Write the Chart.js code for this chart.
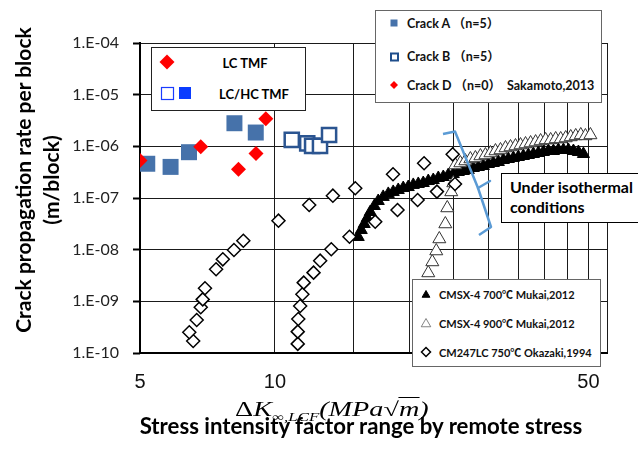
<!DOCTYPE html>
<html>
<head>
<meta charset="utf-8">
<script src="https://cdn.jsdelivr.net/npm/chart.js@4.4.1/dist/chart.umd.min.js"></script>
<style>
  html, body { margin: 0; padding: 0; background: #fff; }
  #wrap { position: relative; width: 638px; height: 457px; overflow: hidden; }
  #wrap canvas { position: absolute; left: 0; top: 0; }
  .box { position: absolute; box-sizing: border-box; border: 1px solid #666; background: #fff; }
  .t { position: absolute; white-space: nowrap; line-height: 1; transform: translateY(-50%);
       font-family: Lato, "Noto Sans CJK JP", sans-serif; font-weight: bold; color: #111; }
  .t.c { transform: translate(-50%, -50%); }
  .t.rot { transform: translate(-50%, -50%) rotate(-90deg); color: #000; }
  #formula { position: absolute; left: 235px; top: 399px; white-space: nowrap; line-height: 1;
             font-family: "Liberation Serif", serif; font-size: 20px; color: #000; transform-origin: 0 0; }
  #formula .sub { font-size: 12px; position: relative; top: 5px; }
  #formula .ov { border-top: 1px solid #000; }
  #marks { position: absolute; left: 0; top: 0; }
</style>
</head>
<body>
<div id="wrap">
  <canvas id="gridCanvas" width="638" height="457"></canvas>
  <canvas id="chart" width="638" height="457"></canvas>

  <!-- legend top left -->
  <div class="box" style="left:151px; top:47px; width:155px; height:64px; border-color:#222;"></div>
  <div class="t c" style="left:245px; top:62.5px; font-size:13px; color:#000;">LC TMF</div>
  <div class="t c" style="left:254px; top:93.5px; font-size:13px; color:#000;">LC/HC TMF</div>

  <!-- legend top right -->
  <div class="box" style="left:375px; top:10px; width:227px; height:93px;"></div>
  <div class="t" style="left:407px; top:23.5px; font-size:12.5px;">Crack A （n=5）</div>
  <div class="t" style="left:407px; top:56.5px; font-size:12.5px;">Crack B （n=5）</div>
  <div class="t" style="left:407px; top:85.5px; font-size:12.5px;">Crack D （n=0）</div>
  <div class="t" style="left:507px; top:85.5px; font-size:12.5px;">Sakamoto,2013</div>

  <!-- legend bottom right -->
  <div class="box" style="left:412px; top:279px; width:189px; height:88px;"></div>
  <div class="t" style="left:439px; top:293.5px; font-size:11px;">CMSX-4 700℃ Mukai,2012</div>
  <div class="t" style="left:439px; top:322.5px; font-size:11px;">CMSX-4 900℃ Mukai,2012</div>
  <div class="t" style="left:439px; top:351.5px; font-size:11px;">CM247LC 750℃ Okazaki,1994</div>

  <!-- note -->
  <div class="box" style="left:501px; top:173px; width:151px; height:50px; border-color:#000;"></div>
  <div class="t" style="left:510px; top:186.8px; font-size:16px; color:#000;">Under isothermal</div>
  <div class="t" style="left:510px; top:206.8px; font-size:16px; color:#000;">conditions</div>

  <!-- axis titles -->
  <div id="yt1" class="t rot" style="left:23px; top:180px;">Crack propagation rate per block</div>
  <div id="yt2" class="t rot" style="left:51px; top:180px;">(m/block)</div>
  <div id="xt2" class="t c" style="left:361px; top:428px; color:#000;">Stress intensity factor range by remote stress</div>
  <div id="formula"><span>Δ</span><i>K</i><span class="sub">∞<i>,LCF</i></span><i>(MPa</i><span>√</span><i class="ov">m</i><i>)</i></div>

  <!-- legend symbols and bracket -->
  <svg id="marks" width="638" height="457" xmlns="http://www.w3.org/2000/svg">
    <polygon points="167,54.5 174.5,62 167,69.5 159.5,62" fill="#ff0000"/>
    <rect x="161.5" y="87.5" width="12" height="12" fill="#fff" stroke="#1a3cff" stroke-width="1.2"/>
    <rect x="179" y="87" width="12" height="12" fill="#0a3cff"/>

    <rect x="390.5" y="19.5" width="7" height="7" fill="#4672aa"/>
    <rect x="391" y="53.5" width="7" height="7" fill="#fff" stroke="#1f4e8c" stroke-width="2"/>
    <polygon points="394,81 398,85 394,89 390,85" fill="#ff0000"/>

    <polygon points="426,290.5 429.9,297.25 422.1,297.25" fill="#000" stroke="#000" stroke-width="1"/>
    <polygon points="426,318.5 430.76,326.75 421.24,326.75" fill="#fff" stroke="#666" stroke-width="0.8"/>
    <polygon points="426,347.5 430.5,352 426,356.5 421.5,352" fill="#fff" stroke="#000" stroke-width="1.5"/>

    <polyline points="443,134 455,131.5 478,188 491,227 479,235" fill="none" stroke="#5b9bd5" stroke-width="2.5" stroke-linejoin="round"/>
    <line x1="478" y1="188" x2="490" y2="181" stroke="#5b9bd5" stroke-width="2.5" stroke-linecap="round"/>
  </svg>
</div>
<script>
// stress intensity factor range (MPa m^0.5) vs. crack growth rate (m/block)

// LC TMF (red diamonds)
var lcTmfK    = [5.0, 6.83, 8.29, 9.07, 9.54];
var lcTmfRate = [5.3e-7, 9.8e-7, 3.6e-7, 7.3e-7, 3.4e-6];

// LC/HC TMF, crack A (filled squares)
var crackAK    = [5.19, 5.85, 6.43, 8.12, 9.06];
var crackARate = [4.6e-7, 4.0e-7, 7.7e-7, 2.8e-6, 1.85e-6];

// LC/HC TMF, crack B (open squares)
var crackBK    = [10.9, 11.8, 12.1, 12.6, 13.2];
var crackBRate = [1.33e-6, 1.14e-6, 1.02e-6, 1.02e-6, 1.66e-6];

// CMSX-4 700C Mukai 2012 (filled triangles)
var mukai700K = [15.33, 15.57, 15.81, 16.06, 16.31, 16.65, 16.99, 17.43, 17.89, 18.35,
                 18.83, 19.32, 19.82, 20.34, 20.87, 21.41, 21.97, 22.54, 23.13, 23.73,
                 24.35, 24.98, 25.63, 26.30, 26.98, 27.69, 28.41, 29.15, 29.91, 30.68,
                 31.48, 32.30, 33.14, 34.01, 34.89, 35.80, 36.73, 37.69, 38.67, 39.67,
                 40.71, 41.77, 42.85, 43.97, 45.11, 46.29, 47.49, 48.73];
var mukai700Rate = [1.76e-8, 2.40e-8, 3.14e-8, 4.10e-8, 5.36e-8, 7.00e-8, 8.75e-8, 1.05e-7, 1.20e-7, 1.31e-7,
                    1.43e-7, 1.56e-7, 1.63e-7, 1.79e-7, 1.87e-7, 1.95e-7, 2.13e-7, 2.23e-7, 2.44e-7, 2.55e-7,
                    2.79e-7, 2.92e-7, 3.19e-7, 3.33e-7, 3.48e-7, 3.81e-7, 3.98e-7, 4.16e-7, 4.55e-7, 4.76e-7,
                    4.98e-7, 5.44e-7, 5.69e-7, 5.95e-7, 6.22e-7, 6.50e-7, 6.80e-7, 7.11e-7, 7.43e-7, 7.77e-7,
                    8.12e-7, 8.12e-7, 8.50e-7, 8.50e-7, 8.50e-7, 8.12e-7, 7.77e-7, 7.11e-7];

// CMSX-4 900C Mukai 2012 (open triangles)
var mukai900K = [21.97, 22.43, 22.89, 23.25, 23.98, 24.22, 24.72, 24.98,
                 25.24, 25.90, 26.57, 27.27, 27.98, 28.71, 29.46, 30.23, 31.02, 31.83,
                 32.66, 33.51, 34.38, 35.28, 36.20, 37.15, 38.12, 39.11, 40.13, 41.18,
                 42.26, 43.36, 44.49, 45.65, 46.84, 48.07, 49.23, 50.51];
var mukai900Rate = [3.54e-9, 5.78e-9, 9.42e-9, 1.61e-8, 3.14e-8, 6.41e-8, 1.31e-7, 1.95e-7,
                    4.35e-7, 4.76e-7, 5.20e-7, 5.69e-7, 5.95e-7, 6.50e-7, 6.80e-7, 7.43e-7, 8.12e-7, 8.50e-7,
                    9.29e-7, 9.71e-7, 1.015e-6, 1.06e-6, 1.11e-6, 1.16e-6, 1.21e-6, 1.27e-6, 1.33e-6, 1.33e-6,
                    1.39e-6, 1.39e-6, 1.45e-6, 1.52e-6, 1.59e-6, 1.66e-6, 1.59e-6, 1.66e-6];

// CM247LC 750C Okazaki 1994 (open diamonds)
var okazakiK = [6.57, 6.44, 6.69, 6.83, 6.90, 6.98, 7.39, 7.65, 8.10, 8.50,
                11.24, 11.24, 11.27, 11.38, 11.51, 11.59, 12.19, 12.61, 13.35, 14.66,
                10.18, 11.92, 13.46, 15.1, 16.73, 18.33, 18.76, 20.8, 21.5, 22.97, 24.9, 25.2];
var okazakiRate = [1.71e-10, 2.52e-10, 4.36e-10, 7.67e-10, 1.09e-9, 1.79e-9, 4.17e-9, 6.5e-9, 9.86e-9, 1.49e-8,
                   1.5e-10, 2.59e-10, 4.55e-10, 8.13e-10, 1.37e-9, 2.3e-9, 3.59e-9, 6.12e-9, 1.02e-8, 1.78e-8,
                   3.64e-8, 7.33e-8, 1.11e-7, 1.54e-7, 3.48e-8, 2.88e-7, 5.86e-8, 9.15e-8, 4.7e-7, 1.33e-7, 7.0e-7, 1.87e-7];

// axes
var xTickValues = [5, 10, 15, 20, 25, 30, 35, 40, 45, 50, 55];
var xTickLabels = ['5', '10', '', '', '', '', '', '', '', '50', ''];
var yTickValues = [1e-10, 1e-9, 1e-8, 1e-7, 1e-6, 1e-5, 1e-4];
var yTickLabels = ['1.E-10', '1.E-09', '1.E-08', '1.E-07', '1.E-06', '1.E-05', '1.E-04'];

function pairs(xs, ys) {
    var out = [];
    for (var i = 0; i < xs.length; i++) {
        out.push({x: xs[i], y: ys[i]});
    }
    return out;
}

// size a title so it spans the same width as in the original
function fitWidth(el, target) {
    el.style.fontSize = '20px';
    var size = 20 * target / el.offsetWidth;
    el.style.fontSize = size.toFixed(2) + 'px';
    return size;
}

var ys = fitWidth(document.getElementById('yt1'), 306);
document.getElementById('yt2').style.fontSize = ys.toFixed(2) + 'px';
var xs = fitWidth(document.getElementById('xt2'), 443);
document.getElementById('xt2').style.top = (435 - 0.387 * xs).toFixed(1) + 'px';
var formula = document.getElementById('formula');
formula.style.transform = 'scaleX(' + (193 / formula.offsetWidth).toFixed(4) + ')';

var NONE = 'rgba(0,0,0,0)';

// same scales for both layers; the lower one draws grid and labels, the upper one the axis lines
function makeScales(base) {
    return {
        x: {
            type: 'logarithmic',
            min: 5,
            max: 55,
            afterBuildTicks: function(scale) {
                scale.ticks = xTickValues.map(function(v) { return {value: v}; });
            },
            afterFit: function(scale) { scale.height = 104; },
            grid: {display: base, color: '#1a1a1a', lineWidth: 1, drawTicks: false},
            border: {display: !base, color: '#000', width: 2},
            ticks: {
                autoSkip: false,
                maxRotation: 0,
                padding: 17,
                color: base ? '#111' : NONE,
                font: {family: 'Liberation Sans', size: 20},
                callback: function(value, index) { return xTickLabels[index]; }
            }
        },
        y: {
            type: 'logarithmic',
            min: 1e-10,
            max: 1e-4,
            afterBuildTicks: function(scale) {
                scale.ticks = yTickValues.map(function(v) { return {value: v}; });
            },
            afterFit: function(scale) { scale.width = 140; },
            grid: {display: base, color: '#1a1a1a', lineWidth: 1, drawTicks: true, tickLength: 7,
                   tickColor: '#000', tickWidth: 2},
            border: {display: !base, color: '#000', width: 2},
            ticks: {
                padding: 14,
                color: base ? '#222' : NONE,
                font: {family: 'Lato', size: 16},
                callback: function(value, index) { return yTickLabels[index]; }
            }
        }
    };
}

function makeOptions(base) {
    return {
        responsive: false,
        devicePixelRatio: 1,
        animation: false,
        events: [],
        layout: {
            autoPadding: false,
            padding: {left: 0, right: 31, top: 43, bottom: 0}
        },
        plugins: {
            legend: {display: false},
            tooltip: {enabled: false}
        },
        scales: makeScales(base)
    };
}

var gridChart = new Chart(document.getElementById('gridCanvas'), {
    type: 'scatter',
    data: {datasets: []},
    options: makeOptions(true)
});

var crackChart = new Chart(document.getElementById('chart'), {
    type: 'scatter',
    data: {
        datasets: [
            {
                label: 'CM247LC 750C Okazaki,1994',
                data: pairs(okazakiK, okazakiRate),
                pointStyle: 'rectRot',
                pointRadius: 6.5,
                backgroundColor: '#fff',
                borderColor: '#000',
                borderWidth: 1.5
            },
            {
                label: 'CMSX-4 900C Mukai,2012',
                data: pairs(mukai900K, mukai900Rate),
                pointStyle: 'triangle',
                pointRadius: 7.5,
                backgroundColor: '#fff',
                borderColor: '#333',
                borderWidth: 1
            },
            {
                label: 'CMSX-4 700C Mukai,2012',
                data: pairs(mukai700K, mukai700Rate),
                pointStyle: 'triangle',
                pointRadius: 7,
                backgroundColor: '#000',
                borderColor: '#000',
                borderWidth: 1
            },
            {
                label: 'LC TMF',
                data: pairs(lcTmfK, lcTmfRate),
                pointStyle: 'rectRot',
                pointRadius: 7.5,
                backgroundColor: '#ff0000',
                borderColor: '#ff0000',
                borderWidth: 0
            },
            {
                label: 'Crack B',
                data: pairs(crackBK, crackBRate),
                pointStyle: 'rect',
                pointRadius: 10,
                backgroundColor: '#fff',
                borderColor: '#2b5591',
                borderWidth: 2.5
            },
            {
                label: 'Crack A',
                data: pairs(crackAK, crackARate),
                pointStyle: 'rect',
                pointRadius: 11.3,
                backgroundColor: '#4672aa',
                borderColor: '#4672aa',
                borderWidth: 0
            }
        ]
    },
    options: makeOptions(false)
});
</script>
</body>
</html>
